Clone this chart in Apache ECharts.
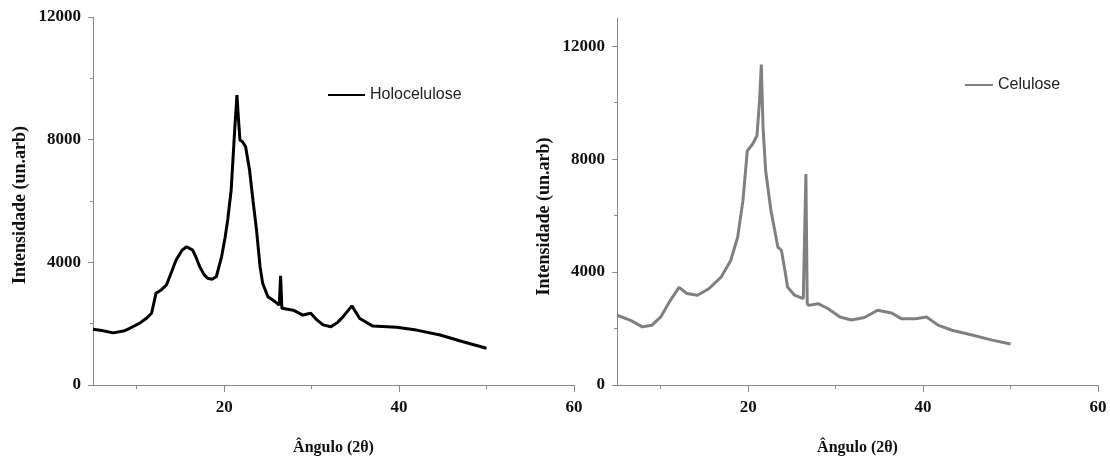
<!DOCTYPE html>
<html><head><meta charset="utf-8">
<script src="https://cdn.jsdelivr.net/npm/echarts@6/dist/echarts.min.js"></script>
<style>html,body{margin:0;padding:0;background:#fff}#c{width:1110px;height:461px}</style>
</head><body><div id="c"></div>
<script>
// Holocelulose (left panel)
const holoX = [5,6,7.3,8.5,9.2,10.3,11,11.7,12.2,12.8,13.4,14,14.5,15.2,15.7,16.4,16.8,17.2,17.7,18.1,18.6,19.1,19.7,20.1,20.4,20.8,21.2,21.46,21.65,21.8,22.1,22.45,22.9,23.3,23.7,24.1,24.4,25,25.8,26.3,26.45,26.6,26.8,27.9,29,29.9,30.5,31.3,32.2,33,33.6,34.6,35.5,37,39.7,42,44.7,47.3,50];
const holoY = [1820,1780,1700,1760,1850,2010,2150,2340,2990,3100,3260,3700,4075,4400,4510,4400,4150,3860,3600,3480,3450,3530,4180,4800,5380,6360,8310,9450,8600,7990,7930,7770,7010,6000,5050,3860,3320,2880,2720,2610,3560,2500,2450,2440,2280,2340,2150,1960,1900,2050,2230,2580,2170,1920,1880,1790,1630,1410,1200];
// Celulose (right panel)
const celX = [5,6.5,7.9,9,10,11.1,12.1,13,14.2,15.5,16.9,18,18.8,19.4,19.9,20.5,21,21.3,21.5,21.7,22,22.6,23.4,23.8,24.2,24.5,25.3,26.3,26.45,26.6,26.75,26.9,28,29.1,30.5,31.8,33.3,34.8,36.4,37.5,39.1,40.4,41.7,43.3,45.6,47.9,50];
const celY = [2470,2300,2060,2120,2410,3000,3460,3240,3180,3410,3820,4410,5240,6530,8300,8530,8830,10060,11350,9120,7590,6180,4880,4770,4060,3470,3180,3060,3100,7470,2900,2820,2880,2710,2410,2300,2390,2650,2550,2350,2350,2410,2120,1940,1770,1590,1450];
// tick labels
const xLabels = [20,40,60];
const xMinor = [10,30,50];
const yLabels = [0,4000,8000,12000];
const yMinor = [2000,6000,10000];
const seriesNames = ['Holocelulose','Celulose'];

const pairs = (xs, ys) => xs.map((x,i)=>[x, ys[i]]);
const serif = 'Liberation Serif';
const axisColor = '#8a8a8a';
const lblStyle = {fontFamily: serif, fontWeight: 'bold', fontSize: 17, color: '#111', formatter: v => String(v)};

function xAxes(gi){
  return [
    {type:'value', gridIndex:gi, min:5, max:60,
     axisLine:{show:true, onZero:false, lineStyle:{color:axisColor, width:1}},
     axisTick:{show:true, customValues:xLabels, length:7, lineStyle:{color:axisColor}},
     axisLabel:{customValues:xLabels, margin:14, ...lblStyle},
     splitLine:{show:false},
     name:'Ângulo (2θ)', nameLocation:'middle', nameGap:55,
     nameTextStyle:{fontFamily:serif, fontWeight:'bold', fontSize:16, color:'#111'}},
    {type:'value', gridIndex:gi, min:5, max:60, position:'bottom',
     axisLine:{show:false}, axisLabel:{show:false}, splitLine:{show:false},
     axisTick:{show:true, customValues:xMinor, length:4, lineStyle:{color:axisColor}}}
  ];
}
function yAxes(gi, max, pad){
  return [
    {type:'value', gridIndex:gi, min:0, max:max,
     axisLine:{show:true, onZero:false, lineStyle:{color:axisColor, width:1}},
     axisTick:{show:true, customValues:yLabels, length:5, lineStyle:{color:axisColor}},
     axisLabel:{customValues:yLabels, margin:12, ...lblStyle},
     splitLine:{show:false},
     name:'Intensidade (un.arb)', nameLocation:'middle', nameGap:64, nameRotate:90,
     nameTextStyle:{fontFamily:serif, fontWeight:'bold', fontSize:18, color:'#111', padding:pad}},
    {type:'value', gridIndex:gi, min:0, max:max, position:'left',
     axisLine:{show:false}, axisLabel:{show:false}, splitLine:{show:false},
     axisTick:{show:true, customValues:yMinor, length:3, lineStyle:{color:axisColor}}}
  ];
}

const chart = echarts.init(document.getElementById('c'), null, {renderer:'canvas'});
chart.setOption({
  animation:false,
  backgroundColor:'#fff',
  grid:[
    {left:93, top:17, width:481, height:368},
    {left:617, top:18, width:481, height:367}
  ],
  xAxis:[...xAxes(0), ...xAxes(1)],
  yAxis:[...yAxes(0,12000,[0,8,0,0]), ...yAxes(1,13000,[0,30,0,0])],
  legend:[
    {data:[seriesNames[0]], left:328, top:87, padding:0, icon:'rect', itemWidth:37, itemHeight:2, itemGap:5,
     textStyle:{fontFamily:'Liberation Sans', fontSize:16, color:'#222'}},
    {data:[seriesNames[1]], left:965, top:77, padding:0, icon:'rect', itemWidth:28, itemHeight:2, itemGap:5,
     textStyle:{fontFamily:'Liberation Sans', fontSize:16, color:'#222'}}
  ],
  series:[
    {name:seriesNames[0], type:'line', xAxisIndex:0, yAxisIndex:0, data:pairs(holoX, holoY),
     showSymbol:false, symbol:'none', lineStyle:{color:'#000', width:3}, itemStyle:{color:'#000'}},
    {name:seriesNames[1], type:'line', xAxisIndex:2, yAxisIndex:2, data:pairs(celX, celY),
     showSymbol:false, symbol:'none', lineStyle:{color:'#808080', width:3}, itemStyle:{color:'#808080'}}
  ]
});
</script></body></html>
